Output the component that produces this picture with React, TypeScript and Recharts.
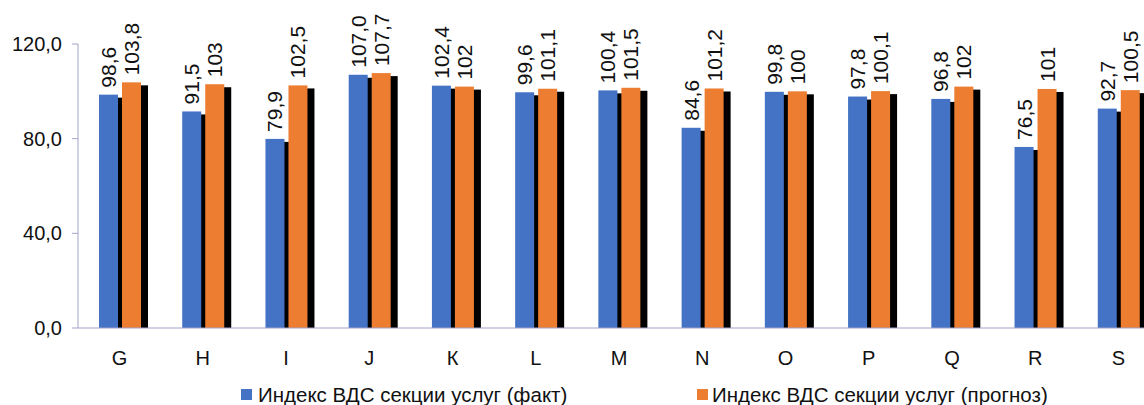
import React from "react";
import { BarChart, Bar, XAxis, YAxis, Legend, LabelList } from "recharts";

const categories = ["G", "H", "I", "J", "К", "L", "M", "N", "O", "P", "Q", "R", "S"];
const factValues = [98.6, 91.5, 79.9, 107.0, 102.4, 99.6, 100.4, 84.6, 99.8, 97.8, 96.8, 76.5, 92.7];
const forecastValues = [103.8, 103, 102.5, 107.7, 102, 101.1, 101.5, 101.2, 100, 100.1, 102, 101, 100.5];
const yTicks = [0, 40, 80, 120];

const seriesNames = {
  fact: "Индекс ВДС секции услуг (факт)",
  forecast: "Индекс ВДС секции услуг (прогноз)",
};

const BLUE = "#4472C4";
const ORANGE = "#ED7D31";
const AXIS = "#A3A3CC";
const FONT = "Arial, 'Liberation Sans', sans-serif";

const data = categories.map((name, i) => ({
  name,
  fact: factValues[i],
  forecast: forecastValues[i],
}));

const shadowBar = (color: string) => (props: any) => {
  const { x, y, width, height } = props;
  return (
    <g>
      <rect x={x + 7} y={y + 3} width={width} height={Math.max(height - 3, 0)} fill="#000" />
      <rect x={x} y={y} width={width} height={height} fill={color} />
    </g>
  );
};

const fmtFact = (v: number) => v.toFixed(1).replace(".", ",");
const fmtForecast = (v: number) => String(v).replace(".", ",");

const rotatedLabel = (fmt: (v: number) => string) => (props: any) => {
  const { x, y, width, value } = props;
  const cx = x + width / 2;
  const ty = y - 7;
  return (
    <text
      x={cx}
      y={ty}
      transform={`rotate(-90 ${cx} ${ty})`}
      textAnchor="start"
      dominantBaseline="central"
      fontSize={21}
      fontFamily={FONT}
      fill="#111"
    >
      {fmt(value)}
    </text>
  );
};

const LegendContent = () => (
  <div style={{ position: "relative", height: 32, fontFamily: FONT, fontSize: 20.5, color: "#111" }}>
    <div style={{ position: "absolute", left: 241, top: 16, width: 11, height: 11, background: BLUE }} />
    <div style={{ position: "absolute", left: 258, top: 10, whiteSpace: "nowrap" }}>{seriesNames.fact}</div>
    <div style={{ position: "absolute", left: 697, top: 16, width: 11, height: 11, background: ORANGE }} />
    <div style={{ position: "absolute", left: 712, top: 10, whiteSpace: "nowrap" }}>{seriesNames.forecast}</div>
  </div>
);

export default function App() {
  return (
    <div style={{ position: "absolute", left: 0, top: 0, width: 1144, height: 405, overflow: "hidden", background: "#fff" }}>
      <BarChart
        width={1163}
        height={405}
        data={data}
        margin={{ top: 44, right: 3, bottom: 0, left: 0 }}
        barSize={19}
        barGap={4}
      >
        <YAxis
          domain={[0, 120]}
          ticks={yTicks}
          width={78}
          stroke={AXIS}
          tickSize={6}
          tickMargin={10}
          tickFormatter={(v: number) => v.toFixed(1).replace(".", ",")}
          tick={{ fill: "#111", fontSize: 20, fontFamily: FONT }}
        />
        <XAxis
          dataKey="name"
          stroke={AXIS}
          tickLine={false}
          tickSize={0}
          tickMargin={23}
          height={45}
          tick={{ fill: "#111", fontSize: 20, fontFamily: FONT }}
        />
        <Legend verticalAlign="bottom" height={32} content={LegendContent} />
        <Bar dataKey="fact" name={seriesNames.fact} fill={BLUE} shape={shadowBar(BLUE)} isAnimationActive={false}>
          <LabelList dataKey="fact" content={rotatedLabel(fmtFact)} />
        </Bar>
        <Bar dataKey="forecast" name={seriesNames.forecast} fill={ORANGE} shape={shadowBar(ORANGE)} isAnimationActive={false}>
          <LabelList dataKey="forecast" content={rotatedLabel(fmtForecast)} />
        </Bar>
      </BarChart>
    </div>
  );
}
